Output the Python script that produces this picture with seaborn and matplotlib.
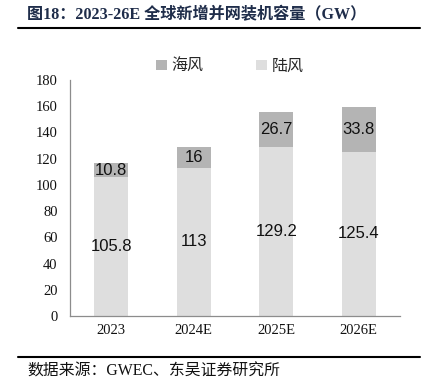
import matplotlib
matplotlib.use("Agg")
import matplotlib.pyplot as plt
import seaborn as sns
import pandas as pd
import numpy as np
from matplotlib.patches import Patch
from matplotlib.lines import Line2D

sns.set_theme(style="white")
plt.rcParams['font.family'] = ['Liberation Serif', 'Noto Sans CJK SC', 'DejaVu Sans']

years = ["2023", "2024E", "2025E", "2026E"]
onshore = [105.8, 113, 129.2, 125.4]
offshore = [10.8, 16, 26.7, 33.8]
offshore_labels = ["10.8", "16", "26.7", "33.8"]
onshore_labels = ["105.8", "113", "129.2", "125.4"]
yticks = [0, 20, 40, 60, 80, 100, 120, 140, 160, 180]

c_off = "#b4b4b4"
c_on = "#dedede"
axis_c = "#8c8c8c"

df = pd.DataFrame({"year": years, "onshore": onshore, "offshore": offshore})
df["total"] = df["onshore"] + df["offshore"]

fig = plt.figure(figsize=(4.23, 3.86), dpi=100)
ax = fig.add_axes([70/423, 1-316/386, 330/423, 236/386])

sns.barplot(data=df, x="year", y="total", color=c_off, width=0.41, ax=ax,
            saturation=1, linewidth=0, errorbar=None)
sns.barplot(data=df, x="year", y="onshore", color=c_on, width=0.41, ax=ax,
            saturation=1, linewidth=0, errorbar=None)

# labels
for i, (on, off) in enumerate(zip(onshore, offshore)):
    ax.text(i, on / 2, onshore_labels[i], ha="center", va="center",
            fontsize=12, family="Liberation Sans", color="#111111")
    ax.text(i, on + off / 2, offshore_labels[i], ha="center", va="center",
            fontsize=12, family="Liberation Sans", color="#111111")

ax.set_ylim(0, 180)
ax.set_xlim(-0.5, 3.5)
ax.set_yticks(yticks)
ax.set_yticklabels([str(v) for v in yticks], fontsize=10.5, family="Liberation Serif")
ax.set_xticks(range(len(years)))
ax.set_xticklabels(years, fontsize=10.5, family="Liberation Serif")
ax.set_xlabel("")
ax.set_ylabel("")
ax.set_xticks([0.5, 1.5, 2.5, 3.5], minor=True)
ax.tick_params(axis="x", which="major", length=0, pad=6, colors="#111111")
ax.tick_params(axis="x", which="minor", length=3, direction="in", color=axis_c, width=0.8)
ax.tick_params(axis="y", which="major", length=3, direction="in", color=axis_c, width=0.8,
               pad=9, labelcolor="#111111")
for s in ["top", "right"]:
    ax.spines[s].set_visible(False)
for s in ["left", "bottom"]:
    ax.spines[s].set_color(axis_c)
    ax.spines[s].set_linewidth(0.9)
ax.grid(False)

handles = [Patch(facecolor=c_off, edgecolor="none", label="海风"),
           Patch(facecolor=c_on, edgecolor="none", label="陆风")]
fig.legend(handles=handles, loc="center", bbox_to_anchor=(230/423, 1-66/386), ncol=2,
           frameon=False, prop={"family": "Noto Sans CJK SC", "size": 11.5},
           handlelength=0.65, handleheight=0.65, handletextpad=0.3, columnspacing=3.3)

fig.text(27/423, 1-15/386, "图18：2023-26E 全球新增并网装机容量（GW）", ha="left", va="center",
         fontsize=11.6, fontweight="bold", family=["Liberation Serif", "Noto Sans CJK SC"],
         color="#1f2d4a")
fig.add_artist(Line2D([18/423, 420/423], [1-28/386, 1-28/386], color="black", lw=1.5))
fig.add_artist(Line2D([18/423, 420/423], [1-357/386, 1-357/386], color="black", lw=1.5))
fig.text(27/423, 1-372/386, "数据来源：GWEC、东吴证券研究所", ha="left", va="center",
         fontsize=11.4, family=["Liberation Serif", "Noto Sans CJK SC"], color="#111111")

fig.savefig("out.png", dpi=100)
